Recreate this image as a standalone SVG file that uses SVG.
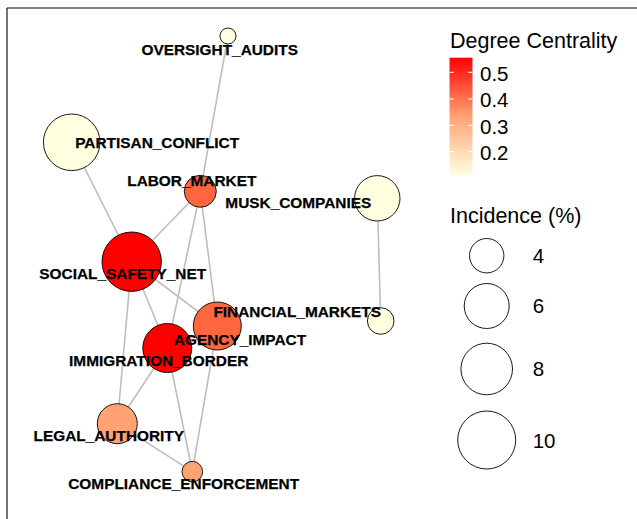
<svg xmlns="http://www.w3.org/2000/svg" width="637" height="519" viewBox="0 0 637 519">
  <defs>
    <linearGradient id="centralityRamp" x1="0" y1="1" x2="0" y2="0">
      <stop offset="0" stop-color="#FFFFE0"/>
      <stop offset="0.5" stop-color="#FFA274"/>
      <stop offset="1" stop-color="#FF0000"/>
    </linearGradient>
  </defs>
  <style>
    .edge { stroke: #BEBEBE; stroke-width: 1.6; fill: none; }
    .node { stroke: #000000; stroke-width: 0.9; }
    .lbl { font-family: "Liberation Sans", Arial, sans-serif; font-weight: bold; font-size: 15.4px; fill: #000000; text-anchor: middle; stroke: #000000; stroke-width: 0.25; }
    .legtitle { font-family: "Liberation Sans", Arial, sans-serif; font-size: 21.5px; fill: #000000; }
    .legtxt { font-family: "Liberation Sans", Arial, sans-serif; font-size: 20.5px; fill: #000000; }
    .key { fill: #FFFFFF; stroke: #000000; stroke-width: 0.9; }
    .tick { stroke: #FFFFFF; stroke-width: 1; }
    .frame { stroke: #000000; stroke-width: 1.1; }
  </style>
  <rect x="0" y="0" width="637" height="519" fill="#FFFFFF"/>
  <!-- panel frame -->
  <line class="frame" x1="7" y1="8" x2="637" y2="8"/>
  <line class="frame" x1="7" y1="8" x2="7" y2="519"/>

  <!-- connectors -->
  <g id="edges">
    <line class="edge" x1="228" y1="36" x2="200.3" y2="191.3"/>
    <line class="edge" x1="71.7" y1="142.3" x2="131.7" y2="261.7"/>
    <line class="edge" x1="200.3" y1="191.3" x2="131.7" y2="261.7"/>
    <line class="edge" x1="200.3" y1="191.3" x2="167.3" y2="348"/>
    <line class="edge" x1="200.3" y1="191.3" x2="217.3" y2="326"/>
    <line class="edge" x1="377.3" y1="198.3" x2="380.7" y2="321"/>
    <line class="edge" x1="131.7" y1="261.7" x2="217.3" y2="326"/>
    <line class="edge" x1="131.7" y1="261.7" x2="167.3" y2="348"/>
    <line class="edge" x1="131.7" y1="261.7" x2="117.3" y2="423.7"/>
    <line class="edge" x1="167.3" y1="348" x2="117.3" y2="423.7"/>
    <line class="edge" x1="167.3" y1="348" x2="192.3" y2="471.7"/>
    <line class="edge" x1="217.3" y1="326" x2="192.3" y2="471.7"/>
    <line class="edge" x1="117.3" y1="423.7" x2="192.3" y2="471.7"/>
    <line class="edge" x1="167.3" y1="348" x2="217.3" y2="326"/>
  </g>

  <!-- nodes -->
  <g id="node-oversight-audits">
    <circle class="node" cx="228" cy="36" r="8" fill="#FFFFE0"/>
  </g>
  <g id="node-partisan-conflict">
    <circle class="node" cx="71.7" cy="142.3" r="28.3" fill="#FFFFE0"/>
  </g>
  <g id="node-musk-companies">
    <circle class="node" cx="377.3" cy="198.3" r="22.7" fill="#FFFFE0"/>
  </g>
  <g id="node-labor-market">
    <circle class="node" cx="200.3" cy="191.3" r="16" fill="#FF6640"/>
  </g>
  <g id="node-social-safety-net">
    <circle class="node" cx="131.7" cy="261.7" r="29.7" fill="#FF0000"/>
  </g>
  <g id="node-financial-markets">
    <circle class="node" cx="380.7" cy="321" r="13.3" fill="#FFFFE0"/>
  </g>
  <g id="node-agency-impact">
    <circle class="node" cx="217.3" cy="326" r="24" fill="#FF6640"/>
  </g>
  <g id="node-immigration-border">
    <circle class="node" cx="167.3" cy="348" r="24.5" fill="#FF0000"/>
  </g>
  <g id="node-legal-authority">
    <circle class="node" cx="117.3" cy="423.7" r="20" fill="#FFA274"/>
  </g>
  <g id="node-compliance-enforcement">
    <circle class="node" cx="192.3" cy="471.7" r="10.3" fill="#FFA274"/>
  </g>

  <!-- node labels -->
  <g id="labels">
    <text class="lbl" x="219.7" y="54.5">OVERSIGHT_AUDITS</text>
    <text class="lbl" x="157.2" y="147.8">PARTISAN_CONFLICT</text>
    <text class="lbl" x="191.8" y="185.5">LABOR_MARKET</text>
    <text class="lbl" x="298.3" y="208.2">MUSK_COMPANIES</text>
    <text class="lbl" x="122.7" y="278.8">SOCIAL_SAFETY_NET</text>
    <text class="lbl" x="297.2" y="317.2">FINANCIAL_MARKETS</text>
    <text class="lbl" x="240" y="344.5">AGENCY_IMPACT</text>
    <text class="lbl" x="158.7" y="366.2">IMMIGRATION_BORDER</text>
    <text class="lbl" x="108.8" y="440.8">LEGAL_AUTHORITY</text>
    <text class="lbl" x="183.7" y="488.8">COMPLIANCE_ENFORCEMENT</text>
  </g>

  <!-- colour legend -->
  <g id="legend-centrality">
    <text class="legtitle" x="450" y="47.5">Degree Centrality</text>
    <rect x="449.5" y="57.7" width="23" height="117.3" fill="url(#centralityRamp)"/>
    <line class="tick" x1="449.5" y1="72.3" x2="454" y2="72.3"/>
    <line class="tick" x1="468" y1="72.3" x2="472.5" y2="72.3"/>
    <line class="tick" x1="449.5" y1="99" x2="454" y2="99"/>
    <line class="tick" x1="468" y1="99" x2="472.5" y2="99"/>
    <line class="tick" x1="449.5" y1="125.3" x2="454" y2="125.3"/>
    <line class="tick" x1="468" y1="125.3" x2="472.5" y2="125.3"/>
    <line class="tick" x1="449.5" y1="151.7" x2="454" y2="151.7"/>
    <line class="tick" x1="468" y1="151.7" x2="472.5" y2="151.7"/>
    <text class="legtxt" x="480" y="80.7">0.5</text>
    <text class="legtxt" x="480" y="107.3">0.4</text>
    <text class="legtxt" x="480" y="133.5">0.3</text>
    <text class="legtxt" x="480" y="159.5">0.2</text>
  </g>

  <!-- size legend -->
  <g id="legend-incidence">
    <text class="legtitle" x="450" y="223.3">Incidence (%)</text>
    <circle class="key" cx="486.7" cy="255.7" r="17.2"/>
    <circle class="key" cx="486.7" cy="306" r="22.5"/>
    <circle class="key" cx="486.7" cy="369" r="25.8"/>
    <circle class="key" cx="486.7" cy="440" r="29"/>
    <text class="legtxt" x="532.7" y="262.7">4</text>
    <text class="legtxt" x="532.7" y="313.3">6</text>
    <text class="legtxt" x="532.7" y="376">8</text>
    <text class="legtxt" x="532.7" y="447.7">10</text>
  </g>
</svg>
